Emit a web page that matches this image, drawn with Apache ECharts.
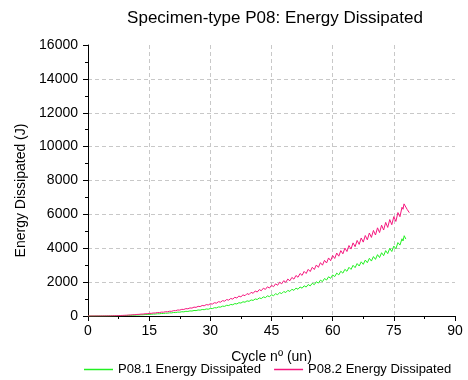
<!DOCTYPE html>
<html>
<head>
<meta charset="utf-8">
<script src="https://cdn.jsdelivr.net/npm/echarts@6/dist/echarts.min.js"></script>
<style>html,body{margin:0;padding:0;background:#fff}#c{width:468px;height:380px}</style>
</head>
<body>
<div id="c"></div>
<script>
// Sampling step of the regular part of the records (cycles)
var cycleStep = 0.5;

// P08.1 energy dissipated (J), sampled every half cycle from cycle 0
var p081Energy = [
0,0,0,0,1,1,2,2,3,4,5,6,8,10,13,16,19,22,26,30,
36,39,46,49,58,60,70,72,84,85,98,100,115,115,131,131,149,148,167,166,
186,184,206,204,228,225,251,246,275,269,299,293,326,319,354,346,383,373,413,402,
444,438,489,480,535,524,582,569,632,616,681,663,733,712,785,762,839,813,894,864,
949,918,1008,973,1067,1029,1127,1086,1188,1143,1249,1201,1313,1262,1379,1324,1445,1387,1512,1450,
1579,1513,1647,1577,1715,1642,1785,1709,1858,1776,1930,1854,2023,1941,2116,2030,2214,2125,2317,2224,
2425,2326,2534,2427,2642,2531,2755,2640,2874,2752,2993,2856,3096,2952,3199,3049,3302,3146,3406,3243,
3509,3344,3622,3451,3736,3562,3860,3683,3994,3809,4128,3969,4334,4187
];
// P08.1 final points (irregular spacing)
var p081TailCycle = [77.0, 77.25, 77.55, 77.95];
var p081TailEnergy = [4560, 4430, 4740, 4540];

// P08.2 energy dissipated (J), sampled every half cycle from cycle 0
var p082Energy = [
0,0,1,1,2,3,4,5,6,8,9,11,14,17,21,25,30,35,41,47,
57,61,75,78,93,96,112,114,132,134,155,155,178,178,203,201,228,224,254,248,
279,277,316,312,354,348,393,386,435,425,476,466,524,510,571,556,621,603,673,651,
725,703,785,759,845,816,907,875,971,935,1035,998,1105,1063,1176,1130,1248,1199,1323,1268,
1397,1340,1478,1416,1559,1492,1642,1570,1726,1649,1811,1730,1900,1814,1991,1900,2084,1988,2180,2078,
2277,2177,2393,2286,2511,2397,2631,2510,2753,2625,2877,2745,3012,2872,3148,3000,3287,3130,3428,3263,
3571,3397,3716,3532,3861,3669,4011,3809,4161,3952,4316,4092,4461,4227,4606,4362,4751,4499,4901,4639,
5051,4782,5206,4926,5361,5076,5527,5230,5693,5390,5868,5583,6107,5862
];
// P08.2 final points (irregular spacing)
var p082TailCycle = [77.0, 77.25, 77.5, 77.9, 78.3, 78.8];
var p082TailEnergy = [6420, 6300, 6620, 6560, 6280, 6100];

var xTicks = [0, 15, 30, 45, 60, 75, 90];
var yTicks = [0, 2000, 4000, 6000, 8000, 10000, 12000, 14000, 16000];
var seriesNames = ['P08.1 Energy Dissipated', 'P08.2 Energy Dissipated'];
var seriesColors = ['#22f022', '#f5177e'];

function buildPairs(vals, tailX, tailY) {
  var out = [];
  for (var i = 0; i < vals.length; i++) out.push([i * cycleStep, vals[i]]);
  for (var j = 0; j < tailX.length; j++) out.push([tailX[j], tailY[j]]);
  return out;
}

var FONT = 'Liberation Sans, Arial, sans-serif';
var chart = echarts.init(document.getElementById('c'), null, {renderer: 'canvas'});
chart.setOption({
  animation: false,
  backgroundColor: '#ffffff',
  title: {
    text: 'Specimen-type P08: Energy Dissipated',
    left: 270, top: 5, textAlign: 'center',
    textStyle: {fontFamily: FONT, fontSize: 17, fontWeight: 'normal', color: '#000'}
  },
  legend: {
    data: seriesNames,
    left: 84, top: 363, padding: 0,
    icon: 'rect', itemWidth: 29, itemHeight: 1.5, itemGap: 13,
    textStyle: {fontFamily: FONT, fontSize: 13, color: '#000'}
  },
  grid: {left: 88, right: 13, top: 45, bottom: 64, containLabel: false},
  xAxis: {
    type: 'value', min: xTicks[0], max: xTicks[xTicks.length - 1], interval: 15,
    name: 'Cycle nº (un)', nameLocation: 'middle', nameGap: 34,
    nameTextStyle: {fontFamily: FONT, fontSize: 14, color: '#000'},
    axisLine: {show: true, onZero: false, lineStyle: {color: '#000', width: 1}},
    axisTick: {show: true, length: 5, lineStyle: {color: '#000'}},
    minorTick: {show: true, splitNumber: 2, length: 3, lineStyle: {color: '#000'}},
    axisLabel: {fontFamily: FONT, fontSize: 14, color: '#000', margin: 8,
      formatter: function (v) { return String(v); }},
    splitLine: {show: true, showMinLine: false, showMaxLine: false, lineStyle: {color: '#c8c8c8', type: [4, 3]}}
  },
  yAxis: {
    type: 'value', min: yTicks[0], max: yTicks[yTicks.length - 1], interval: 2000,
    name: 'Energy Dissipated (J)', nameLocation: 'middle', nameGap: 59, nameRotate: 90,
    nameTextStyle: {fontFamily: FONT, fontSize: 14, color: '#000', padding: [0, 20, 0, 0]},
    axisLine: {show: true, onZero: false, lineStyle: {color: '#000', width: 1}},
    axisTick: {show: true, length: 5, lineStyle: {color: '#000'}},
    minorTick: {show: true, splitNumber: 2, length: 3, lineStyle: {color: '#000'}},
    axisLabel: {fontFamily: FONT, fontSize: 14, color: '#000', margin: 10,
      formatter: function (v) { return String(v); }},
    splitLine: {show: true, showMinLine: false, showMaxLine: false, lineStyle: {color: '#c8c8c8', type: [4, 3]}}
  },
  series: [
    {
      name: seriesNames[0], type: 'line', showSymbol: false, symbol: 'none',
      data: buildPairs(p081Energy, p081TailCycle, p081TailEnergy),
      lineStyle: {color: seriesColors[0], width: 1}, itemStyle: {color: seriesColors[0]}
    },
    {
      name: seriesNames[1], type: 'line', showSymbol: false, symbol: 'none',
      data: buildPairs(p082Energy, p082TailCycle, p082TailEnergy),
      lineStyle: {color: seriesColors[1], width: 1}, itemStyle: {color: seriesColors[1]}
    }
  ]
});
</script>
</body>
</html>
